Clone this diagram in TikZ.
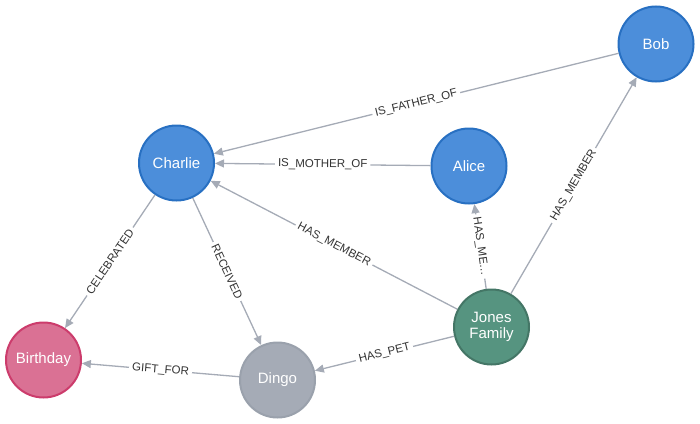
\documentclass[tikz,border=0pt]{standalone}
\usepackage{fontspec}
\setmainfont{Liberation Sans}
\usetikzlibrary{arrows.meta}
\definecolor{bluefill}{HTML}{4C8EDA}
\definecolor{blueline}{HTML}{2870C2}
\definecolor{greenfill}{HTML}{569480}
\definecolor{greenline}{HTML}{447666}
\definecolor{pinkfill}{HTML}{DA7194}
\definecolor{pinkline}{HTML}{CC3C6C}
\definecolor{greyfill}{HTML}{A5ABB6}
\definecolor{greyline}{HTML}{9AA1AC}
\definecolor{edgecol}{HTML}{A5ABB6}
\definecolor{labcol}{HTML}{333333}
\tikzset{
  gnode/.style={circle, minimum size=75pt, inner sep=0pt, line width=2pt, text=white, font=\fontsize{15}{15.5}\selectfont, align=center},
  person/.style={gnode, fill=bluefill, draw=blueline},
  family/.style={gnode, fill=greenfill, draw=greenline},
  event/.style={gnode, fill=pinkfill, draw=pinkline},
  pet/.style={gnode, fill=greyfill, draw=greyline},
  rel/.style={draw=edgecol, line width=1.3pt, -{Triangle[length=9pt,width=8pt]}},
  rlabel/.style={midway, sloped, fill=white, inner sep=3pt, text=labcol, font=\fontsize{11.5}{13}\selectfont}
}
\begin{document}
\begin{tikzpicture}[x=1pt,y=-1pt]
\useasboundingbox (0,0) rectangle (700,423);
\node[person] (bob) at (656,44) {Bob};
\node[person] (charlie) at (176.5,163) {Charlie};
\node[person] (alice) at (469,166) {Alice};
\node[event] (birthday) at (43.5,360) {Birthday};
\node[pet] (dingo) at (277.5,380) {Dingo};
\node[family] (jones) at (491.5,327) {Jones\\Family};
\draw[rel] (bob) -- (charlie) node[rlabel] {IS\_FATHER\_OF};
\draw[rel] (alice) -- (charlie) node[rlabel] {IS\_MOTHER\_OF};
\draw[rel] (jones) -- (charlie) node[rlabel] {HAS\_MEMBER};
\draw[rel] (jones) -- (alice) node[rlabel] {HAS\_ME…};
\draw[rel] (jones) -- (bob) node[rlabel] {HAS\_MEMBER};
\draw[rel] (charlie) -- (birthday) node[rlabel] {CELEBRATED};
\draw[rel] (charlie) -- (dingo) node[rlabel] {RECEIVED};
\draw[rel] (jones) -- (dingo) node[rlabel] {HAS\_PET};
\draw[rel] (dingo) -- (birthday) node[rlabel] {GIFT\_FOR};
\end{tikzpicture}
\end{document}
